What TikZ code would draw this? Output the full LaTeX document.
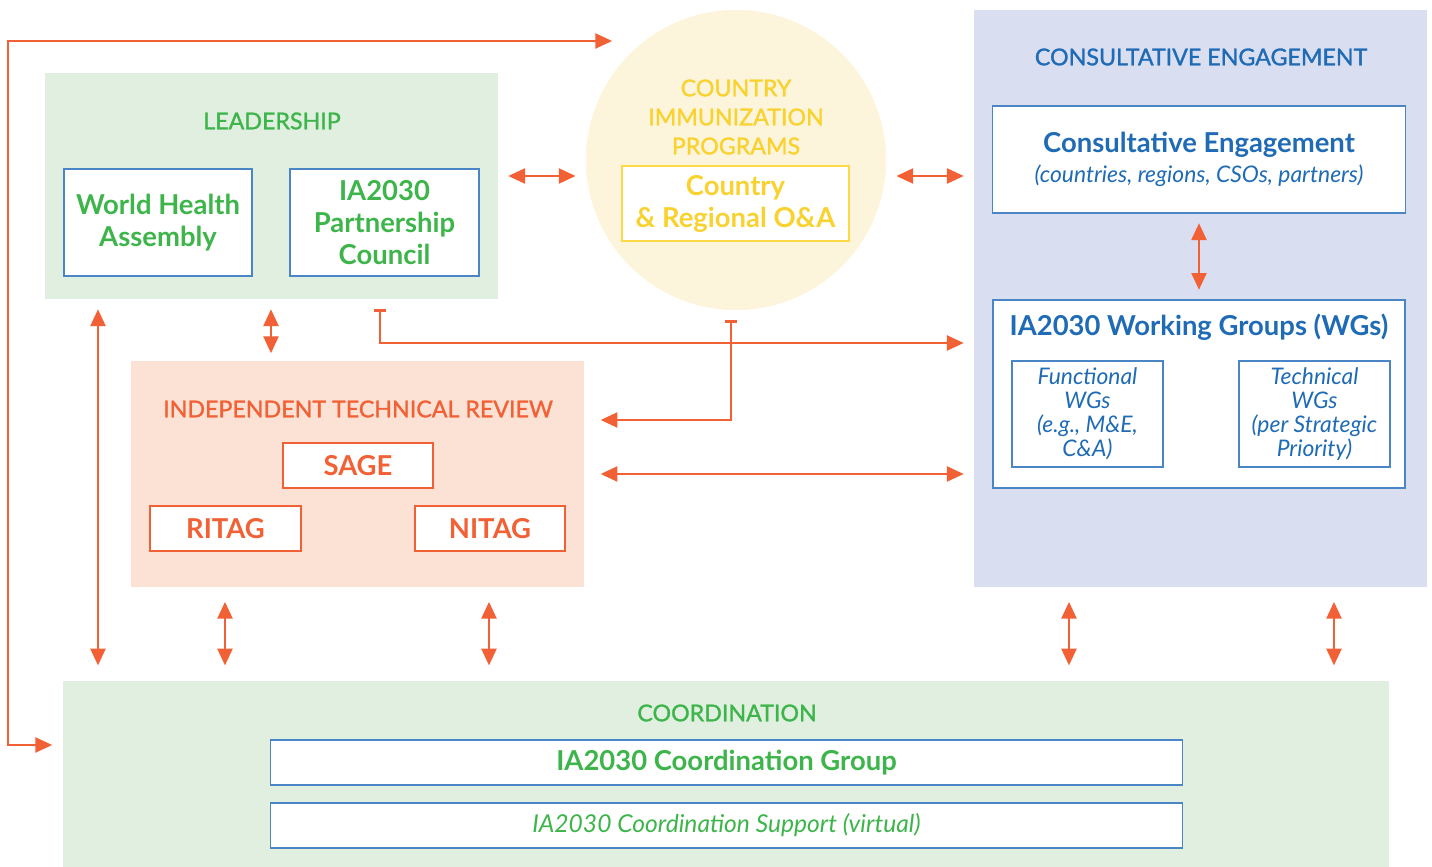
\documentclass[tikz,border=0pt]{standalone}
\usepackage{fontspec}
\setmainfont{Lato}
\newfontface\medfont{Lato}[FakeBold=1.3]
\usetikzlibrary{arrows.meta,fit}
\definecolor{grn}{HTML}{3DB54A}
\definecolor{grnbg}{HTML}{E1EFE0}
\definecolor{blu}{HTML}{1F6BB5}
\definecolor{blubox}{HTML}{4A86C5}
\definecolor{blubg}{HTML}{D9DEF0}
\definecolor{org}{HTML}{F26135}
\definecolor{orgbg}{HTML}{FCE1D5}
\definecolor{ylw}{HTML}{F9D230}
\definecolor{ylwbg}{HTML}{FDF5DB}
\definecolor{ylwbox}{HTML}{FDD945}
\tikzset{
  panel/.style={fill=#1, inner sep=0pt},
  inbox/.style={draw=#1, fill=white, line width=0.35pt, inner sep=0pt, align=center},
  head/.style={text=#1, font=\fontsize{6.6}{8.25}\medfont, align=center},
  big/.style={font=\fontsize{7.8}{9.1}\selectfont\bfseries},
  small/.style={font=\fontsize{6.5}{6.85}\selectfont\itshape},
  link/.style={draw=org, line width=0.85pt},
  dbl/.style={link, {Triangle[length=4.8pt,width=4.2pt]}-{Triangle[length=4.8pt,width=4.2pt]}},
  bar/.style={link, {Bar[width=3.4pt]}-{Triangle[length=4.8pt,width=4.2pt]}},
  gap/.style={shorten <=2.7pt, shorten >=2.7pt}
}
\begin{document}
\begin{tikzpicture}[x=0.01cm, y=-0.01cm]
\useasboundingbox (0,0) rectangle (1432,867);

% leadership
\node[panel=grnbg, fit={(45,73) (498,299)}] (lead) {};
\node[head=grn] (leadtitle) at (272,121) {LEADERSHIP};
\node[inbox=blubox, text=grn, big, minimum width=1.88cm, minimum height=1.07cm] (wha) at (158,222.5) {World Health\\Assembly};
\node[inbox=blubox, text=grn, big, minimum width=1.89cm, minimum height=1.07cm] (ipc) at (384.5,222.5) {IA2030\\Partnership\\Council};

% country programs
\node[circle, fill=ylwbg, minimum size=3cm, inner sep=0pt] (cip) at (736,160) {};
\node[head=ylw] (ciptitle) at (736,117) {COUNTRY\\IMMUNIZATION\\PROGRAMS};
\node[inbox=ylwbox, text=ylw, big, minimum width=2.27cm, minimum height=0.75cm] (oa) at (735.5,203.5) {Country\\\& Regional O\&A};

% consultative engagement
\node[panel=blubg, fit={(974,10) (1427,587)}] (ce) {};
\node[head=blu] (cetitle) at (1201,57) {CONSULTATIVE ENGAGEMENT};
\node[inbox=blubox, text=blu, font=\fontsize{6.5}{8.5}\selectfont, minimum width=4.12cm, minimum height=1.07cm] (cebox) at (1199,159.5)
  {{\fontsize{7.8}{8.5}\selectfont\bfseries Consultative Engagement}\\
   {\itshape (countries, regions, CSOs, partners)}};
\node[inbox=blubox, fit={(993,300) (1405,488)}] (wg) {};
\node[text=blu, big] (wgtitle) at (1199,327) {IA2030 Working Groups (WGs)};
\node[inbox=blubox, text=blu, small, minimum width=1.51cm, minimum height=1.06cm] (fwg) at (1087.5,414) {Functional\\WGs\\(e.g., M\&E,\\C\&A)};
\node[inbox=blubox, text=blu, small, minimum width=1.51cm, minimum height=1.06cm] (twg) at (1314.5,414) {Technical\\WGs\\(per Strategic\\Priority)};

% independent technical review
\node[panel=orgbg, fit={(131,361) (584,587)}] (itr) {};
\node[head=org] (itrtitle) at (358,409) {INDEPENDENT TECHNICAL REVIEW};
\node[inbox=org, text=org, big, minimum width=1.50cm, minimum height=0.45cm] (sage) at (358,465.5) {SAGE};
\node[inbox=org, text=org, big, minimum width=1.51cm, minimum height=0.45cm] (ritag) at (225.5,528.5) {RITAG};
\node[inbox=org, text=org, big, minimum width=1.50cm, minimum height=0.45cm] (nitag) at (490,528.5) {NITAG};

% coordination
\node[panel=grnbg, fit={(63,681) (1389,867)}] (coord) {};
\node[head=grn] (coordtitle) at (727,713) {COORDINATION};
\node[inbox=blubox, text=grn, big, minimum width=9.11cm, minimum height=0.45cm] (cgroup) at (726.5,762.5) {IA2030 Coordination Group};
\node[inbox=blubox, text=grn, font=\fontsize{7}{8}\selectfont\itshape, minimum width=9.11cm, minimum height=0.45cm] (csup) at (726.5,825.5) {IA2030 Coordination Support (virtual)};

% levels and columns for the connectors
\coordinate (yTop) at (0,41);
\coordinate (yMid) at (0,176);
\coordinate (yBar) at (0,343);
\coordinate (yRev) at (0,420);
\coordinate (ySide) at (0,474);
\coordinate (yCo) at (0,745);
\coordinate (xL) at (8,0);
\coordinate (xA) at (98,0);
\coordinate (xB) at (271,0);
\coordinate (xC) at (380,0);
\coordinate (xD) at (731,0);
\coordinate (xE) at (225,0);
\coordinate (xF) at (489,0);
\coordinate (xG) at (1069,0);
\coordinate (xH) at (1334,0);

\draw[dbl] ([xshift=0.27cm]cip.west |- yTop) -- (xL |- yTop) -- (xL |- yCo) -- ([xshift=-0.1cm]coord.west |- yCo);
\draw[dbl, gap] (lead.east |- yMid) -- (cip.west |- yMid);
\draw[dbl, gap] (cip.east |- yMid) -- (ce.west |- yMid);
\draw[dbl, gap] (cebox.south) -- (wg.north);
\draw[bar, gap] (lead.south -| xC) |- (ce.west |- yBar);
\draw[bar, gap, shorten >=4.5pt] (cip.south -| xD) |- (itr.east |- yRev);
\draw[dbl, gap, shorten <=4.5pt] (itr.east |- ySide) -- (ce.west |- ySide);
\draw[dbl, gap, shorten >=4.2pt] (lead.south -| xA) -- (coord.north -| xA);
\draw[dbl, gap, shorten >=2pt] (lead.south -| xB) -- (itr.north -| xB);
\draw[dbl, gap, shorten <=4pt, shorten >=4.2pt] (itr.south -| xE) -- (coord.north -| xE);
\draw[dbl, gap, shorten <=4pt, shorten >=4.2pt] (itr.south -| xF) -- (coord.north -| xF);
\draw[dbl, gap, shorten <=4pt, shorten >=4.2pt] (ce.south -| xG) -- (coord.north -| xG);
\draw[dbl, gap, shorten <=4pt, shorten >=4.2pt] (ce.south -| xH) -- (coord.north -| xH);
\end{tikzpicture}
\end{document}
